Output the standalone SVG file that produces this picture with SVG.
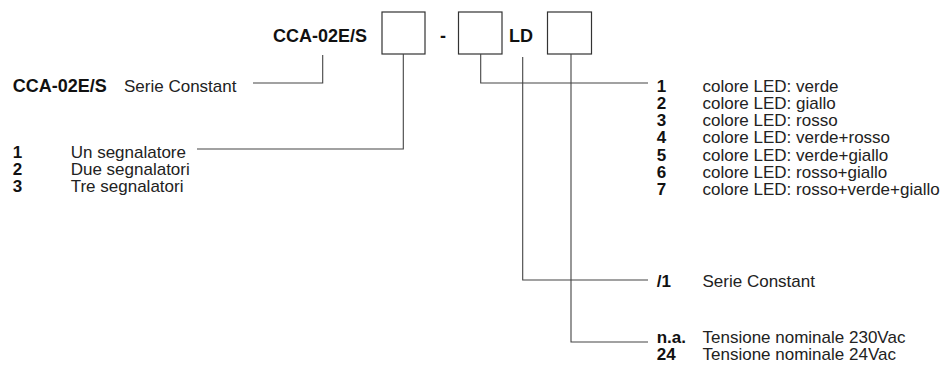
<svg xmlns="http://www.w3.org/2000/svg" width="949" height="368" viewBox="0 0 949 368">
<style>
.b{font-family:"Liberation Sans",Arial,sans-serif;font-weight:bold;font-size:17px;fill:#111}
.h{font-family:"Liberation Sans",Arial,sans-serif;font-weight:bold;font-size:18px;fill:#111}
.t{font-family:"Liberation Sans",Arial,sans-serif;font-size:17px;fill:#222}
.box{fill:#fff;stroke:#333;stroke-width:1.2}
.ln{fill:none;stroke:#444;stroke-width:1.1}
</style>
<rect width="949" height="368" fill="#fff"/>
<g id="header">
<text class="h" x="273" y="42">CCA-02E/S</text>
<text class="h" x="440" y="42">-</text>
<text class="h" x="509" y="42">LD</text>
</g>
<g id="box1"><rect class="box" x="382" y="12" width="43" height="42"/></g>
<g id="box2"><rect class="box" x="458.5" y="12" width="43.5" height="42"/></g>
<g id="box3"><rect class="box" x="547.5" y="12" width="44" height="42"/></g>
<g id="connectors">
<polyline class="ln" points="322.7,55 322.7,83 253,83"/>
<polyline class="ln" points="403.3,54 403.3,149 197,149"/>
<polyline class="ln" points="480.7,54 480.7,83 648,83"/>
<polyline class="ln" points="522.7,57 522.7,280 648,280"/>
<polyline class="ln" points="571,54 571,342 648,342"/>
</g>
<g id="series">
<text class="h" x="12.7" y="91.7">CCA-02E/S</text>
<text class="t" x="124" y="91.7">Serie Constant</text>
</g>
<g id="signals">
<text class="b" x="12.7" y="158.3">1</text><text class="t" x="70.7" y="158.3">Un segnalatore</text>
<text class="b" x="12.7" y="175">2</text><text class="t" x="70.7" y="175">Due segnalatori</text>
<text class="b" x="12.7" y="191.7">3</text><text class="t" x="70.7" y="191.7">Tre segnalatori</text>
</g>
<g id="colors">
<text class="b" x="656.7" y="91.5">1</text><text class="t" x="702.5" y="91.5">colore LED: verde</text>
<text class="b" x="656.7" y="108.8">2</text><text class="t" x="702.5" y="108.8">colore LED: giallo</text>
<text class="b" x="656.7" y="126.1">3</text><text class="t" x="702.5" y="126.1">colore LED: rosso</text>
<text class="b" x="656.7" y="143.4">4</text><text class="t" x="702.5" y="143.4">colore LED: verde+rosso</text>
<text class="b" x="656.7" y="160.7">5</text><text class="t" x="702.5" y="160.7">colore LED: verde+giallo</text>
<text class="b" x="656.7" y="178">6</text><text class="t" x="702.5" y="178">colore LED: rosso+giallo</text>
<text class="b" x="656.7" y="195.3">7</text><text class="t" x="702.5" y="195.3">colore LED: rosso+verde+giallo</text>
</g>
<g id="ld">
<text class="b" x="656.7" y="287">/1</text><text class="t" x="702.5" y="287">Serie Constant</text>
</g>
<g id="voltage">
<text class="b" x="656.7" y="342.5">n.a.</text><text class="t" x="702.5" y="342.5">Tensione nominale 230Vac</text>
<text class="b" x="656.7" y="360">24</text><text class="t" x="702.5" y="360">Tensione nominale 24Vac</text>
</g>
</svg>
